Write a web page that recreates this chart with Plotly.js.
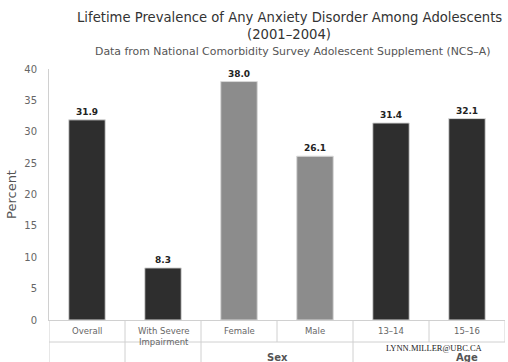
<!DOCTYPE html>
<html><head><meta charset="utf-8">
<script src="https://cdn.plot.ly/plotly-3.0.1.min.js"></script>
<style>html,body{margin:0;padding:0;background:#fff}#chart{width:508px;height:362px}</style>
</head><body><div id="chart"></div>
<script>
const categories = ["Overall", "With Severe<br>Impairment", "Female", "Male", "13–14", "15–16"];
const values = [31.9, 8.3, 38.0, 26.1, 31.4, 32.1];
const groupLabels = [{text: "Sex", pos: 2.5}, {text: "Age", pos: 5.0}];
const barColors = ["#2e2e2e", "#2e2e2e", "#8c8c8c", "#8c8c8c", "#2e2e2e", "#2e2e2e"];
const yTicks = [0, 5, 10, 15, 20, 25, 30, 35, 40];

const xs = categories.map((c, i) => i);
const font = "DejaVu Sans, Verdana, sans-serif";
const H = 251; // plot height px
const W = 456; // plot width px
const py = px => -px / H;

const shapes = [];
shapes.push({type: "line", xref: "x", yref: "paper", x0: -0.5, x1: 5.5, y0: py(22), y1: py(22), line: {color: "#d0d0d0", width: 1}});
for (let i = 0; i <= categories.length; i++) {
  shapes.push({type: "line", xref: "x", yref: "paper", x0: i - 0.5, x1: i - 0.5, y0: 0, y1: py(22), line: {color: "#d0d0d0", width: 1}});
}
[-0.5, 0.5, 1.5, 3.5].forEach(b => {
  shapes.push({type: "line", xref: "x", yref: "paper", x0: b, x1: b, y0: py(22), y1: py(50), line: {color: "#d0d0d0", width: 1}});
});

const annotations = [];
categories.forEach((c, i) => {
  annotations.push({x: i, xref: "x", y: py(4), yref: "paper", yanchor: "top", text: c, showarrow: false,
    font: {family: font, size: 8.5, color: "#666"}, align: "center"});
});
groupLabels.forEach(g => {
  annotations.push({x: g.pos, xref: "x", y: py(30), yref: "paper", yanchor: "top", text: "<b>" + g.text + "</b>", showarrow: false,
    font: {family: font, size: 10, color: "#555"}});
});
annotations.push({xref: "paper", x: (434 - 49) / W, xanchor: "center", yref: "paper", y: py(348 - 320), yanchor: "middle",
  text: "LYNN.MILLER@UBC.CA", showarrow: false, font: {family: "Liberation Serif, serif", size: 8.5, color: "#222"}});
annotations.push({xref: "paper", yref: "paper", x: (289 - 49) / W, y: (320 - 18) / H, xanchor: "center", yanchor: "middle", showarrow: false,
  text: "Lifetime Prevalence of Any Anxiety Disorder Among Adolescents", font: {family: font, size: 13.2, color: "#333"}});
annotations.push({xref: "paper", yref: "paper", x: (289 - 49) / W, y: (320 - 35) / H, xanchor: "center", yanchor: "middle", showarrow: false,
  text: "(2001–2004)", font: {family: font, size: 13.2, color: "#333"}});
annotations.push({xref: "paper", yref: "paper", x: (292 - 49) / W, y: (320 - 51) / H, xanchor: "center", yanchor: "middle", showarrow: false,
  text: "Data from National Comorbidity Survey Adolescent Supplement (NCS–A)", font: {family: font, size: 10.9, color: "#555"}});

const trace = {
  type: "bar", x: xs, y: values,
  marker: {color: barColors, line: {color: "#d8d8d8", width: 1}},
  width: 0.48,
  text: values.map(v => v.toFixed(1)), textposition: "outside", cliponaxis: false,
  textfont: {family: font, size: 9, color: "#222", weight: "bold"},
  hoverinfo: "none"
};

const layout = {
  width: 508, height: 362,
  margin: {l: 49, r: 3, t: 69, b: 42},
  paper_bgcolor: "#fff", plot_bgcolor: "#fff",
  showlegend: false,
  xaxis: {range: [-0.5, 5.5], showticklabels: false, showgrid: false, zeroline: false, showline: true, linecolor: "#d0d0d0", ticks: "", fixedrange: true},
  yaxis: {range: [0, 40], tickvals: yTicks, showgrid: false, zeroline: false, showline: true, linecolor: "#d0d0d0",
    ticks: "outside", ticklen: 9, tickcolor: "rgba(0,0,0,0)",
    tickfont: {family: font, size: 10, color: "#666"},
    title: {text: "Percent", font: {family: font, size: 13, color: "#555"}, standoff: 4}},
  shapes: shapes,
  annotations: annotations
};

Plotly.newPlot("chart", [trace], layout, {staticPlot: true, displayModeBar: false});
</script>
</body></html>
